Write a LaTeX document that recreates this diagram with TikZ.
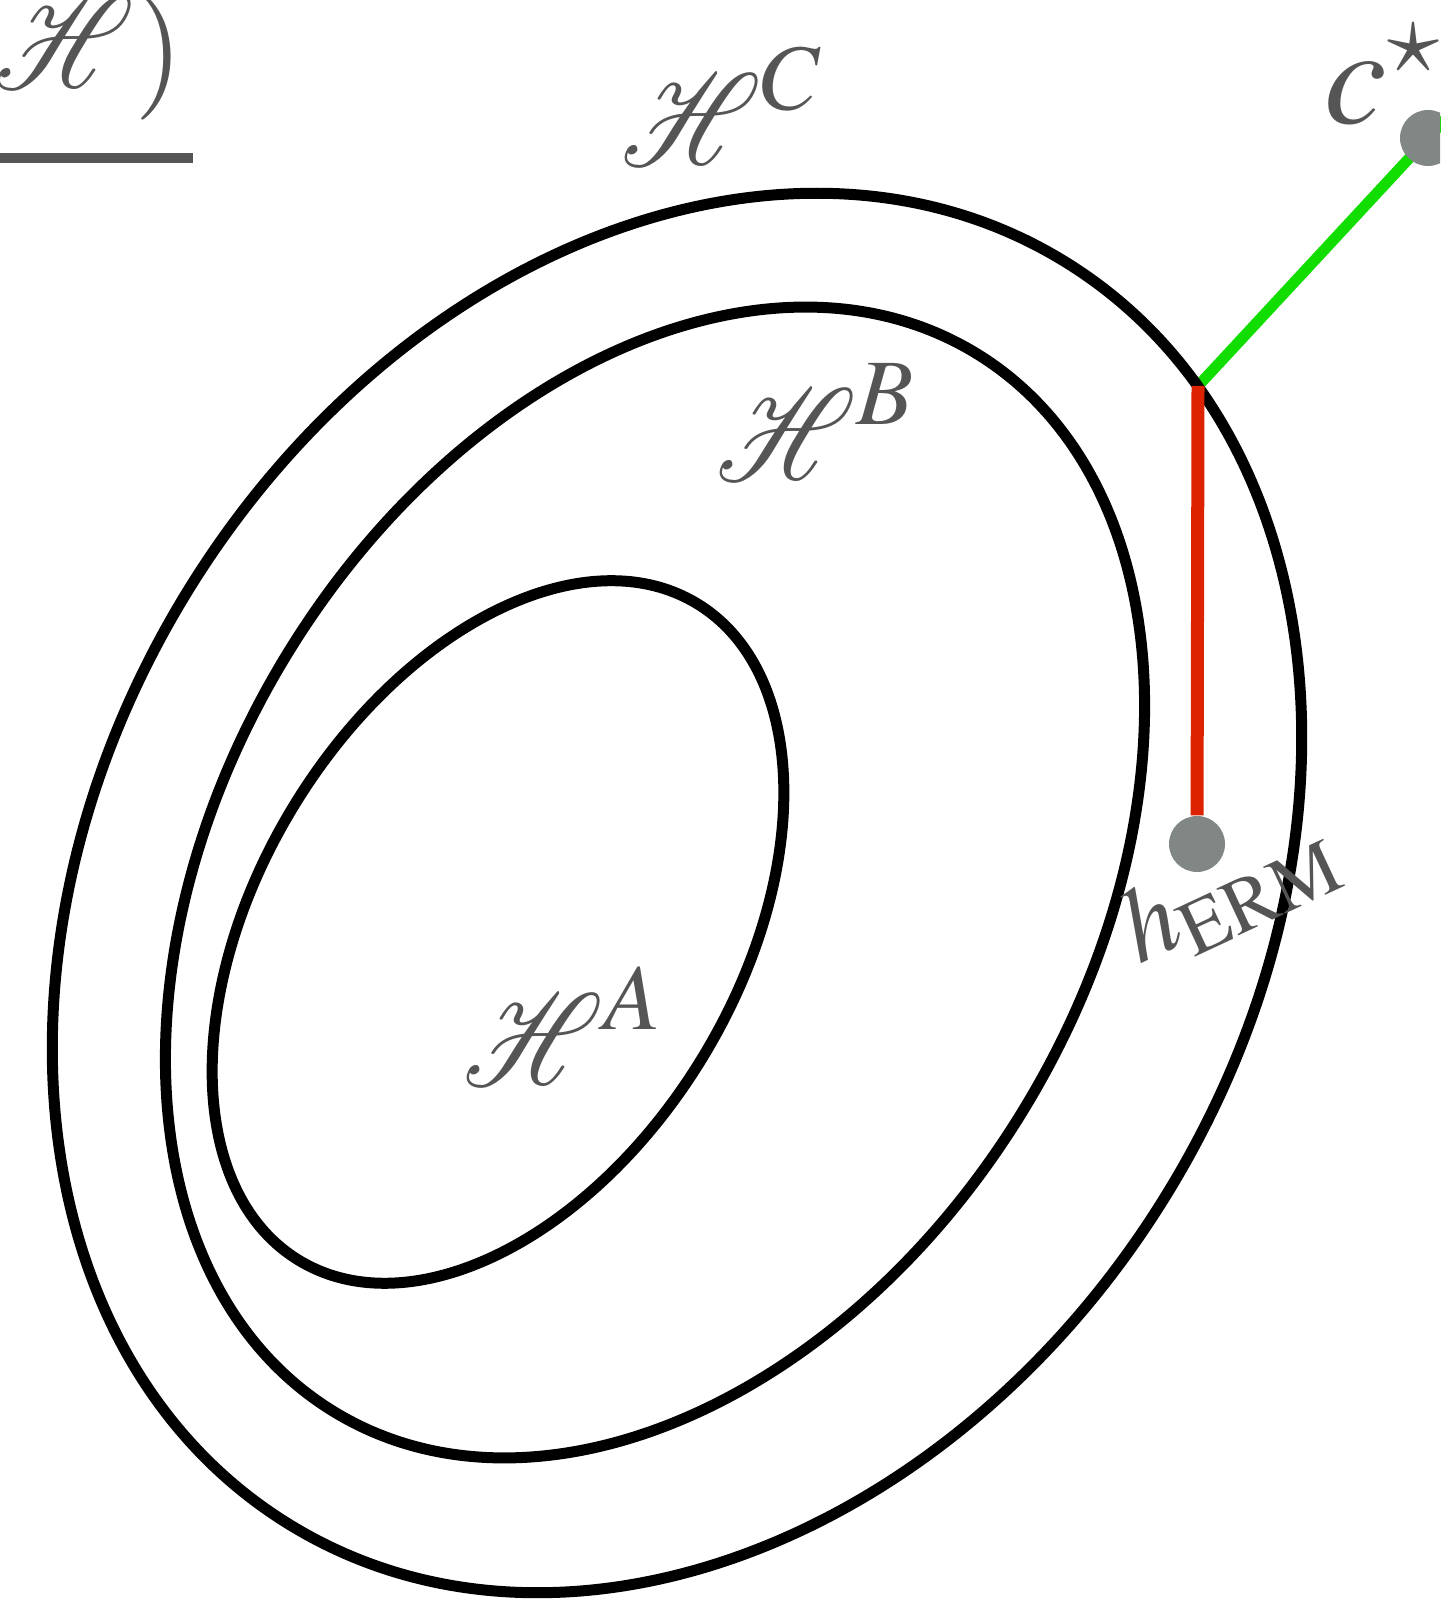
\documentclass[tikz,border=0pt]{standalone}
\usepackage{mathptmx}
\usepackage{mathrsfs}
\usepackage{graphicx}
\usepackage{xcolor}
\usetikzlibrary{positioning, calc, backgrounds}
\definecolor{labelgray}{HTML}{555555}
\definecolor{dotgray}{HTML}{808784}
\definecolor{ermred}{HTML}{DD2200}
\definecolor{stargreen}{HTML}{11DD00}
\newcommand{\hcl}{\mbox{\scalebox{1.26}[1.5]{$\mathscr{H}$}}}
\tikzset{
  hclass/.style = {draw=black, line width=0.11cm},
  lbl/.style = {text=labelgray, inner sep=0pt, font=\fontsize{36}{44}\selectfont},
  biglbl/.style = {text=labelgray, inner sep=0pt, font=\fontsize{40}{48}\selectfont},
  smalllbl/.style = {text=labelgray, inner sep=0pt, font=\fontsize{30}{36}\selectfont},
  hdot/.style = {circle, fill=dotgray, inner sep=0pt, minimum size=0.56cm},
  errline/.style = {ermred, line width=0.13cm},
  apxline/.style = {stargreen, line width=0.11cm},
}

\begin{document}
\begin{tikzpicture}
  \useasboundingbox (0,0) rectangle (14.4,15.99);
  \clip (0,0) rectangle (14.4,15.99);

  % Hypothesis classes
  \draw[hclass] (6.77,7.06) ellipse [x radius=7.41cm, y radius=5.75cm, rotate=58.5];
  \draw[hclass] (6.55,7.165) ellipse [x radius=6.19cm, y radius=4.33cm, rotate=58.9];
  \draw[hclass] (4.98,6.67) ellipse [x radius=3.84cm, y radius=2.40cm, rotate=58.8];

  \node[lbl] (hC) at (7.22,14.93) {$\hcl^{C}$};
  \node[lbl] (hB) at (8.16,11.77) {$\hcl^{B}$};
  \node[lbl] (hA) at (5.63,5.73) {$\hcl^{A}$};

  % Cut-off title
  \node[lbl, anchor=base east] (ttl) at (1.84,15.10) {$\hcl)$};
  \draw[labelgray, line width=0.1cm] (0,14.41) -- (1.93,14.41);

  % Points
  \coordinate (hit) at (11.98,12.13);
  \node[hdot] (erm) at (11.97,7.55) {};
  \node[hdot] (cstar) at (14.28,14.61) {};
  \node[biglbl] (cstarlbl) at (13.83,15.24) {$c^{\star}$};
  \node[smalllbl, rotate=25] (ermlbl) at (12.29,7.07) {$h_{\mathrm{ERM}}$};

  % Errors
  \begin{scope}[on background layer]
    \draw[apxline] (hit) -- ($(hit)!1.25!(cstar.center)$);
  \end{scope}
  \draw[errline] (hit) -- (erm);

\end{tikzpicture}
\end{document}
